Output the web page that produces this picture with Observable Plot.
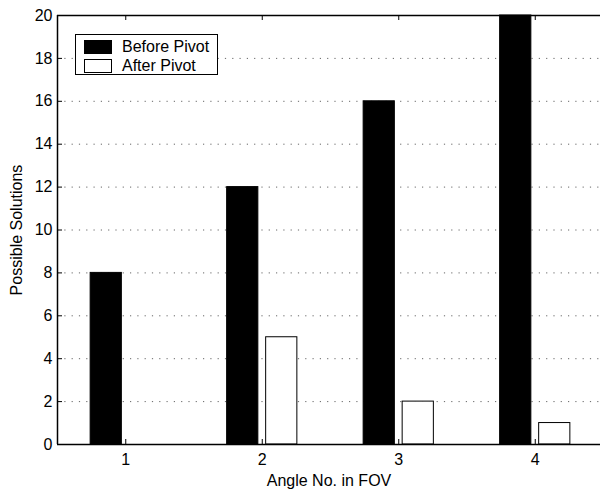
<!DOCTYPE html>
<html><head><meta charset="utf-8">
<script src="https://cdn.jsdelivr.net/npm/d3@7"></script>
<script src="https://cdn.jsdelivr.net/npm/@observablehq/plot@0.6"></script>
<style>
body{margin:0;background:#fff;}
#wrap{position:relative;width:600px;height:490px;overflow:hidden;font-family:"Liberation Sans",Arial,Helvetica,sans-serif;}
#legend{position:absolute;left:75px;top:34px;width:143px;height:41px;box-sizing:border-box;border:1px solid #000;background:#fff;padding:2px 0 0 8px;font-size:16px;line-height:19px;}
#legend .row{display:flex;align-items:center;white-space:nowrap;}
#legend .sw{width:28px;height:14px;border:1px solid #000;margin-right:10px;box-sizing:border-box;}
</style></head><body><div id="wrap"></div>
<script>
const angles = [1, 2, 3, 4];
const beforePivot = [8, 12, 16, 20];
const afterPivot = [0, 5, 2, 1];
const seriesNames = ["Before Pivot", "After Pivot"];
const seriesFills = ["#000", "#fff"];
const xTicks = [1, 2, 3, 4];
const yTicks = [0, 2, 4, 6, 8, 10, 12, 14, 16, 18, 20];
const gridTicks = [2, 4, 6, 8, 10, 12, 14, 16, 18];
const xLabel = "Angle No. in FOV";
const yLabel = "Possible Solutions";

const rows = [];
angles.forEach((a, i) => {
  rows.push({angle: a, series: 0, value: beforePivot[i]});
  rows.push({angle: a, series: 1, value: afterPivot[i]});
});
const offsets = [-0.1429, 0.1429];
const halfW = 0.1143;

const xRange = [57, 603], yRange = [444, 15];
const tlY = 5 * 20 / (yRange[0] - yRange[1]);
const tlX = 5 * 4 / (xRange[1] - xRange[0]);

const chart = Plot.plot({
  width: 600, height: 490,
  marginLeft: 57, marginRight: 0, marginTop: 15, marginBottom: 46,
  style: {fontFamily: '"Liberation Sans", Arial, Helvetica, sans-serif', fontSize: "16px", background: "#fff", color: "#000"},
  x: {domain: [0.5, 4.5], range: xRange},
  y: {domain: [0, 20], range: yRange},
  marks: [
    Plot.ruleY(gridTicks, {y: d => d, stroke: "#666", strokeDasharray: "1.2,6.1", strokeWidth: 1}),
    ...[0, 1].map(s => Plot.rect(rows.filter(r => r.series === s), {
      x1: d => d.angle + offsets[s] - halfW,
      x2: d => d.angle + offsets[s] + halfW,
      y1: 0, y2: "value",
      fill: seriesFills[s], stroke: "#000", strokeWidth: 1
    })),
    Plot.ruleY([0, 20], {y: d => d, stroke: "#000", strokeWidth: 1.3}),
    Plot.ruleX([0.5], {x: d => d, stroke: "#000", strokeWidth: 1.5}),
    Plot.ruleX(xTicks, {x: d => d, y1: 0, y2: tlY, stroke: "#000"}),
    Plot.ruleX(xTicks, {x: d => d, y1: 20 - tlY, y2: 20, stroke: "#000"}),
    Plot.ruleY(yTicks, {y: d => d, x1: 0.5, x2: 0.5 + tlX, stroke: "#000"}),
    Plot.axisX(xTicks, {tickSize: 0, tickPadding: 9, tickFormat: d => String(d), label: xLabel, labelAnchor: "center", labelArrow: "none", labelOffset: 41}),
    Plot.axisY(yTicks, {tickSize: 0, tickPadding: 5, tickFormat: d => String(d), label: yLabel, labelAnchor: "center", labelArrow: "none", labelOffset: 47})
  ]
});
const wrap = document.getElementById("wrap");
wrap.appendChild(chart);
const lg = document.createElement("div");
lg.id = "legend";
seriesNames.forEach((n, i) => {
  const r = document.createElement("div"); r.className = "row";
  const sw = document.createElement("div"); sw.className = "sw"; sw.style.background = seriesFills[i];
  const t = document.createElement("span"); t.textContent = n;
  r.appendChild(sw); r.appendChild(t); lg.appendChild(r);
});
wrap.appendChild(lg);
</script>
</body></html>
